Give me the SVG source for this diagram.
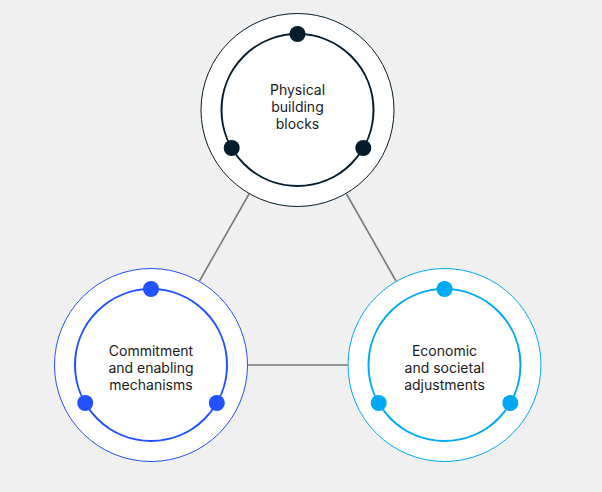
<svg xmlns="http://www.w3.org/2000/svg" width="602" height="492" viewBox="0 0 602 492">
<style>
.outer{fill:#ffffff;stroke-width:1}
.inner{fill:none;stroke-width:2}
.lbl{font-family:"Inter","Liberation Sans",Arial,sans-serif;font-size:14px;fill:#1a1a1a;text-anchor:middle}
.conn{stroke:#7a7a7a;stroke-width:1.6;fill:none}
</style>
<rect x="0" y="0" width="602" height="492" fill="#f0f0f0"/>
<g id="connectors">
<line class="conn" x1="249" y1="194" x2="199.5" y2="281"/>
<line class="conn" x1="346.5" y1="194" x2="396" y2="281"/>
<line class="conn" x1="247" y1="365" x2="348" y2="365"/>
</g>
<g id="node-physical">
<circle class="outer" cx="297.5" cy="110" r="96.5" stroke="#051c2c"/>
<circle class="inner" cx="297.5" cy="110" r="76" stroke="#051c2c"/>
<circle cx="297.5" cy="34" r="8" fill="#051c2c"/>
<circle cx="231.7" cy="148" r="8" fill="#051c2c"/>
<circle cx="363.3" cy="148" r="8" fill="#051c2c"/>
<text class="lbl" x="297.5" y="95">Physical</text>
<text class="lbl" x="297.5" y="112">building</text>
<text class="lbl" x="297.5" y="128.5">blocks</text>
</g>
<g id="node-commitment">
<circle class="outer" cx="151" cy="365" r="96.5" stroke="#2251ff"/>
<circle class="inner" cx="151" cy="365" r="76" stroke="#2251ff"/>
<circle cx="151" cy="289" r="8" fill="#2251ff"/>
<circle cx="85.2" cy="403" r="8" fill="#2251ff"/>
<circle cx="216.8" cy="403" r="8" fill="#2251ff"/>
<text class="lbl" x="151" y="356">Commitment</text>
<text class="lbl" x="151" y="373">and enabling</text>
<text class="lbl" x="151" y="390">mechanisms</text>
</g>
<g id="node-economic">
<circle class="outer" cx="444.5" cy="365" r="96.5" stroke="#00a9f4"/>
<circle class="inner" cx="444.5" cy="365" r="76" stroke="#00a9f4"/>
<circle cx="444.5" cy="289" r="8" fill="#00a9f4"/>
<circle cx="378.7" cy="403" r="8" fill="#00a9f4"/>
<circle cx="510.3" cy="403" r="8" fill="#00a9f4"/>
<text class="lbl" x="444.5" y="356">Economic</text>
<text class="lbl" x="444.5" y="373">and societal</text>
<text class="lbl" x="444.5" y="390">adjustments</text>
</g>
</svg>
